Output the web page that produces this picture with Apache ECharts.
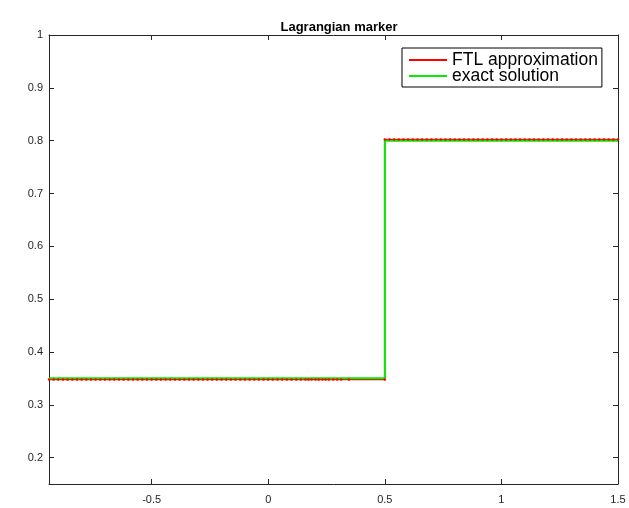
<!DOCTYPE html>
<html>
<head>
<meta charset="utf-8">
<script src="https://cdn.jsdelivr.net/npm/echarts@6/dist/echarts.min.js"></script>
<style>html,body{margin:0;padding:0;background:#fff}#c{width:629px;height:508px}</style>
</head>
<body>
<div id="c"></div>
<script>
// x positions of FTL markers
var ftlLeftX = [-0.94,-0.92,-0.9,-0.88,-0.86,-0.84,-0.82,-0.8,-0.78,-0.76,-0.74,-0.72,-0.7,-0.68,-0.66,-0.64,-0.62,-0.6,-0.58,-0.56,-0.54,-0.52,-0.5,-0.48,-0.46,-0.44,-0.42,-0.4,-0.38,-0.36,-0.34,-0.32,-0.3,-0.28,-0.26,-0.24,-0.22,-0.2,-0.18,-0.16,-0.14,-0.12,-0.1,-0.08,-0.06,-0.04,-0.02,0,0.02,0.04,0.06,0.08,0.1,0.12,0.14,0.16,0.173,0.186,0.203,0.217,0.232,0.246,0.26,0.279,0.296,0.313,0.346,0.5];
var ftlLeftLevel = 0.348;
var ftlRightX = [0.5,0.52,0.54,0.56,0.58,0.6,0.62,0.64,0.66,0.68,0.7,0.72,0.74,0.76,0.78,0.8,0.82,0.84,0.86,0.88,0.9,0.92,0.94,0.96,0.98,1,1.02,1.04,1.06,1.08,1.1,1.12,1.14,1.16,1.18,1.2,1.22,1.24,1.26,1.28,1.3,1.32,1.34,1.36,1.38,1.4,1.42,1.44,1.46,1.48,1.5];
var ftlRightLevel = 0.802;
var exactX = [-0.94, 0.5, 0.5, 1.5];
var exactY = [0.35, 0.35, 0.8, 0.8];
var xTicks = [-0.5, 0, 0.5, 1, 1.5];
var yTicks = [0.2, 0.3, 0.4, 0.5, 0.6, 0.7, 0.8, 0.9, 1];

var ftlData = ftlLeftX.map(function(x){return [x, ftlLeftLevel];})
  .concat(ftlRightX.map(function(x){return [x, ftlRightLevel];}));
var exactData = exactX.map(function(x,i){return [x, exactY[i]];});

var axisCol = '#262626';
var font = 'Liberation Sans, Arial, Helvetica, sans-serif';
function xAx(pos, labels){
  return {type:'value', position:pos, min:-0.94, max:1.5,
    axisLine:{show:true, onZero:false, lineStyle:{color:axisCol, width:1}},
    axisTick:{show:true, inside:true, length:5, customValues:xTicks, lineStyle:{color:axisCol}},
    axisLabel:{show:labels, customValues:xTicks, color:axisCol, fontSize:11, fontFamily:font, margin:10,
      formatter:function(v){return String(+v.toFixed(2));}},
    splitLine:{show:false}};
}
function yAx(pos, labels){
  return {type:'value', position:pos, min:0.15, max:1,
    axisLine:{show:true, onZero:false, lineStyle:{color:axisCol, width:1}},
    axisTick:{show:true, inside:true, length:5, customValues:yTicks, lineStyle:{color:axisCol}},
    axisLabel:{show:labels, customValues:yTicks, color:axisCol, fontSize:11, fontFamily:font, margin:6,
      formatter:function(v){return String(+v.toFixed(2));}},
    splitLine:{show:false}};
}
var chart = echarts.init(document.getElementById('c'), null, {renderer:'canvas'});
chart.setOption({
  animation:false,
  backgroundColor:'#fff',
  title:{text:'Lagrangian marker', left:334, top:16, textAlign:'center',
    textStyle:{fontSize:13, fontWeight:'bold', color:'#000', fontFamily:font}},
  grid:{left:49, right:11, top:35, bottom:24, containLabel:false},
  xAxis:[xAx('bottom', true), xAx('top', false)],
  yAxis:[yAx('left', true), yAx('right', false)],
  legend:{orient:'vertical', left:402, top:48, padding:[3,4,2,7], itemGap:-2,
    itemWidth:38, itemHeight:2, borderColor:'#000', borderWidth:1, backgroundColor:'#fff',
    textStyle:{fontSize:17.5, lineHeight:16, color:'#000', fontFamily:font},
    data:[{name:'FTL approximation', icon:'rect'},{name:'exact solution', icon:'rect'}]},
  series:[
    {name:'FTL approximation', type:'line', data:ftlData, xAxisIndex:0, yAxisIndex:0,
      symbol:'circle', symbolSize:2.5, showSymbol:true,
      lineStyle:{color:'#ff0000', width:1.5}, itemStyle:{color:'#ff0000'}},
    {name:'exact solution', type:'line', data:exactData, xAxisIndex:0, yAxisIndex:0,
      symbol:'none', lineStyle:{color:'#00ee00', width:2}, itemStyle:{color:'#00ee00'}}
  ]
});
</script>
</body>
</html>
